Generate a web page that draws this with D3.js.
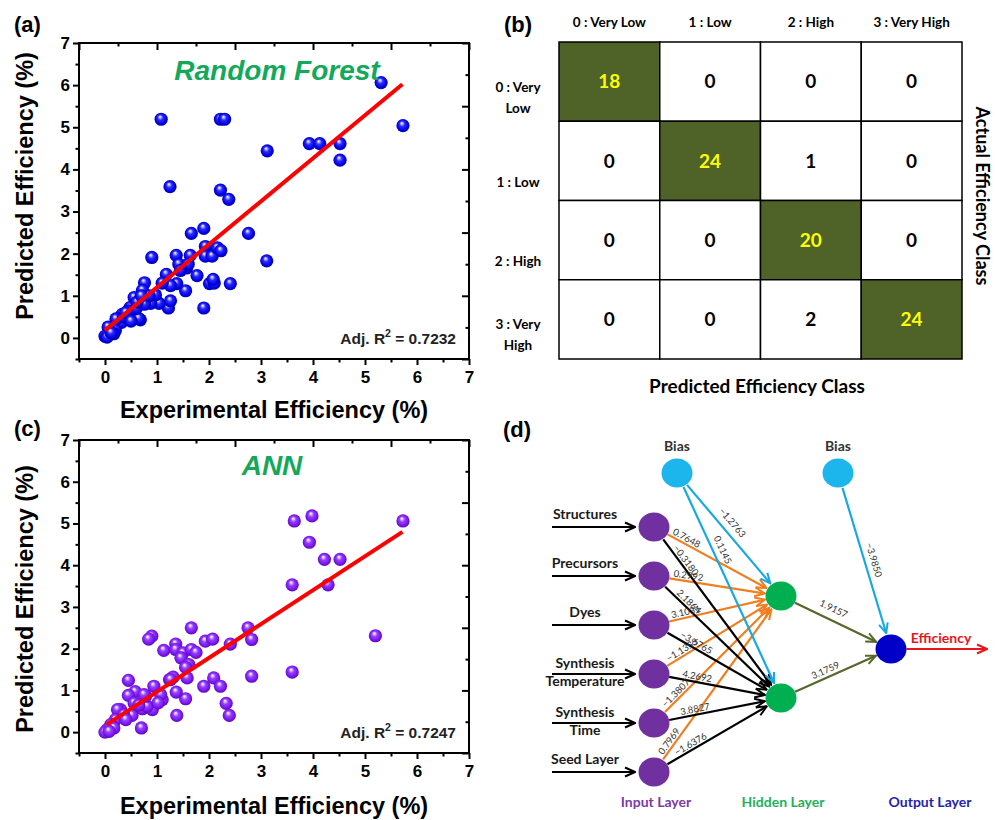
<!DOCTYPE html>
<html>
<head>
<meta charset="utf-8">
<script src="https://cdn.jsdelivr.net/npm/d3@7"></script>
<style>
  body { margin: 0; background: #fff; }
  svg { display: block; }
</style>
</head>
<body>
<script>
// ---- data: (a) random forest, experimental vs predicted
const rfExp = [5.31, 5.73, 1.08, 2.22, 2.30, 3.12, 3.93, 4.13, 4.52, 4.52, 1.25, 2.22, 2.38, 1.90, 1.66, 2.76,
  3.11, 0.90, 1.37, 1.64, 1.93, 1.93, 2.06, 2.16, 2.23, 1.42, 1.57, 1.77, 1.18, 1.55, 1.38, 1.26, 1.10, 2.01,
  2.10, 2.08, 2.41, 1.90, 1.22, 1.26, 1.04, 0.88, 0.97, 0.76, 0.72, 0.76, 0.56, 0.68, 0.56, 0.48, 0.45, 0.33,
  0.32, 0.21, 0.20, 0.06, 0.00, 0.04, 0.17, 0.36, 0.65, 0.60, 0.62, 0.40, 0.85, 0.70, 1.45, 1.60, 0.12, 0.50];
const rfPred = [6.06, 5.04, 5.19, 5.19, 5.19, 4.44, 4.61, 4.61, 4.61, 4.22, 3.59, 3.51, 3.29, 2.60, 2.48, 2.48,
  1.83, 1.91, 1.96, 1.96, 2.17, 1.94, 1.94, 2.14, 2.07, 1.75, 1.66, 1.48, 1.51, 1.12, 1.29, 1.24, 1.30, 1.29,
  1.30, 1.39, 1.29, 0.71, 0.71, 0.88, 0.82, 0.82, 1.02, 1.31, 1.13, 0.80, 0.96, 0.43, 0.50, 0.72, 0.64, 0.56,
  0.37, 0.45, 0.18, 0.26, 0.04, 0.02, 0.10, 0.50, 0.46, 0.70, 0.85, 0.60, 1.00, 1.00, 1.60, 1.75, 0.12, 0.40];
const rfFit = [[0.0, 0.18], [5.72, 6.02]];
const rfR2 = "0.7232";

// ---- data: (c) ANN
const annExp = [5.73, 3.98, 3.64, 3.93, 4.22, 4.52, 3.60, 4.29, 5.20, 3.60, 2.82, 2.75, 2.82, 2.41, 1.66, 1.93,
  2.07, 0.90, 0.84, 1.13, 1.36, 1.36, 1.50, 1.66, 1.75, 1.46, 1.61, 1.58, 2.09, 1.90, 2.22, 2.33, 2.39, 1.38,
  1.55, 1.37, 1.31, 1.24, 1.10, 0.94, 1.07, 0.91, 0.45, 0.58, 0.45, 0.70, 0.52, 0.72, 0.81, 0.78, 0.30, 0.24,
  0.36, 0.20, 0.11, 0.04, 0.00, 0.17, 0.56, 0.75, 1.26, 1.55, 0.65, 0.08, 0.40, 1.02];
const annPred = [5.06, 5.18, 5.06, 4.55, 4.14, 4.14, 3.53, 3.53, 2.31, 1.44, 1.34, 2.50, 2.22, 2.11, 2.50, 2.18,
  2.23, 2.30, 2.23, 1.96, 2.11, 1.98, 1.90, 1.98, 1.91, 1.78, 1.62, 1.30, 1.30, 1.10, 1.10, 0.69, 0.40, 0.40,
  0.80, 0.96, 1.32, 1.26, 0.78, 1.10, 0.90, 0.54, 1.24, 0.97, 0.88, 0.10, 0.40, 0.56, 0.62, 0.86, 0.54, 0.54,
  0.42, 0.30, 0.18, 0.06, 0.00, 0.10, 0.70, 0.90, 1.26, 1.55, 0.65, 0.02, 0.30, 0.70];
const annFit = [[0.03, 0.18], [5.72, 4.80]];
const annR2 = "0.7247";

const axisMajor = [0, 1, 2, 3, 4, 5, 6, 7];
const axisMinor = [-0.5, 0.5, 1.5, 2.5, 3.5, 4.5, 5.5, 6.5];
const mirrorMajor = [-0.5, 1, 2.5, 4, 5.5, 7];
const mirrorMinor = [0.25, 1.75, 3.25, 4.75, 6.25];

// ---- data: (b) confusion matrix
const classNames = ["0 : Very Low", "1 : Low", "2 : High", "3 : Very High"];
const rowNameLines = [["0 : Very", "Low"], ["1 : Low"], ["2 : High"], ["3 : Very", "High"]];
const confusion = [
  [18, 0, 0, 0],
  [0, 24, 1, 0],
  [0, 0, 20, 0],
  [0, 0, 2, 24]
];

// ---- data: (d) network
const inputLines = [["Structures"], ["Precursors"], ["Dyes"], ["Synthesis", "Temperature"], ["Synthesis", "Time"], ["Seed Layer"]];
const wToHidden1 = [0.7648, 0.2992, 3.1031, -1.1353, -1.3807, 0.7969];
const wToHidden2 = [-0.3180, 2.1864, -3.6765, 4.2692, 3.8827, -1.6376];
const wBiasToHidden = [-1.2763, 0.1145];
const wHiddenToOut = [1.9157, 3.1759];
const wBiasToOut = -3.9850;

const FONT = "'Liberation Sans', Arial, sans-serif";
const FONT2 = "Lato, 'Open Sans', sans-serif";

const svg = d3.select("body").append("svg")
  .attr("width", 995).attr("height", 820)
  .style("font-family", FONT);

const defs = svg.append("defs");

// shaded sphere gradients
function sphere(id, stops) {
  const gr = defs.append("radialGradient").attr("id", id)
    .attr("cx", "50%").attr("cy", "50%").attr("r", "55%")
    .attr("fx", "40%").attr("fy", "30%");
  stops.forEach(([o, c]) => gr.append("stop").attr("offset", o).attr("stop-color", c));
}
sphere("ballBlue", [["0%", "#ffffff"], ["14%", "#b8b8ff"], ["38%", "#2a2aff"], ["75%", "#0000e6"], ["100%", "#000090"]]);
sphere("ballPurple", [["0%", "#ffffff"], ["14%", "#dcc4ff"], ["38%", "#9440ff"], ["75%", "#7a12f0"], ["100%", "#4a0898"]]);

// ---------------- scatter panels ----------------
function scatterPanel(o) {
  const x = d3.scaleLinear().domain([-0.5, 7]).range([79, 469]);
  const y = d3.scaleLinear().domain([-0.5, 7]).range([o.bottom, o.top]);
  const g = svg.append("g");

  const style = sel => {
    sel.select(".domain").remove();
    sel.selectAll("line").attr("stroke", "#000").attr("stroke-width", 2);
    sel.selectAll("text").style("font-family", FONT).style("font-size", "17px")
      .style("font-weight", "bold").attr("fill", "#000");
  };

  g.append("g").attr("transform", `translate(0,${o.bottom})`)
    .call(d3.axisBottom(x).tickValues(axisMajor).tickSize(6).tickPadding(6).tickFormat(d3.format("d"))).call(style);
  g.append("g").attr("transform", `translate(0,${o.bottom})`)
    .call(d3.axisBottom(x).tickValues(axisMinor).tickSize(3.5).tickFormat("")).call(style);
  g.append("g").attr("transform", "translate(79,0)")
    .call(d3.axisLeft(y).tickValues(axisMajor).tickSize(6).tickPadding(3).tickFormat(d3.format("d"))).call(style);
  g.append("g").attr("transform", "translate(79,0)")
    .call(d3.axisLeft(y).tickValues(axisMinor).tickSize(3.5).tickFormat("")).call(style);
  // mirrored axes, inward ticks
  g.append("g").attr("transform", `translate(0,${o.top})`)
    .call(d3.axisTop(x).tickValues(mirrorMajor).tickSize(-7).tickFormat("")).call(style);
  g.append("g").attr("transform", `translate(0,${o.top})`)
    .call(d3.axisTop(x).tickValues(mirrorMinor).tickSize(-3.5).tickFormat("")).call(style);
  g.append("g").attr("transform", "translate(469,0)")
    .call(d3.axisRight(y).tickValues(mirrorMajor).tickSize(-7).tickFormat("")).call(style);
  g.append("g").attr("transform", "translate(469,0)")
    .call(d3.axisRight(y).tickValues(mirrorMinor).tickSize(-3.5).tickFormat("")).call(style);

  g.append("rect").attr("x", 79).attr("y", o.top).attr("width", 390).attr("height", o.bottom - o.top)
    .attr("fill", "none").attr("stroke", "#000").attr("stroke-width", 2);

  const pts = o.xs.map((v, i) => [v, o.ys[i]]);
  g.append("g").selectAll("circle").data(pts).join("circle")
    .attr("cx", d => x(d[0])).attr("cy", d => y(d[1])).attr("r", 6.6)
    .attr("fill", `url(#${o.ball})`);

  g.append("line")
    .attr("x1", x(o.fit[0][0])).attr("y1", y(o.fit[0][1]))
    .attr("x2", x(o.fit[1][0])).attr("y2", y(o.fit[1][1]))
    .attr("stroke", "#ff0000").attr("stroke-width", 4).attr("stroke-linecap", "butt");

  g.append("text").attr("x", o.titleX).attr("y", o.titleY).attr("text-anchor", "middle")
    .style("font-size", "28px").style("font-weight", "bold").style("font-style", "italic")
    .attr("fill", "#14a85a").text(o.title);

  const r2 = g.append("text").attr("x", 456).attr("y", o.bottom - 15).attr("text-anchor", "end")
    .style("font-size", "15.5px").style("font-weight", "bold").attr("fill", "#222");
  r2.append("tspan").text("Adj. R");
  r2.append("tspan").attr("dy", -7).style("font-size", "10.5px").text("2");
  r2.append("tspan").attr("dy", 7).text(" = " + o.r2);

  g.append("text").attr("transform", `translate(33,${o.ylabY}) rotate(-90)`).attr("text-anchor", "middle")
    .style("font-size", "23.5px").style("font-weight", "bold").text("Predicted Efficiency (%)");
  g.append("text").attr("x", 274).attr("y", o.xlabY).attr("text-anchor", "middle")
    .style("font-size", "23.5px").style("font-weight", "bold").text("Experimental Efficiency (%)");

  g.append("text").attr("x", 14).attr("y", o.tagY)
    .style("font-size", "22px").style("font-weight", "bold").text(o.tag);
}

scatterPanel({ top: 43, bottom: 359, xs: rfExp, ys: rfPred, fit: rfFit, r2: rfR2, ball: "ballBlue",
  title: "Random Forest", titleX: 277, titleY: 80, ylabY: 186, xlabY: 418, tag: "(a)", tagY: 32 });
scatterPanel({ top: 440, bottom: 753, xs: annExp, ys: annPred, fit: annFit, r2: annR2, ball: "ballPurple",
  title: "ANN", titleX: 272, titleY: 475, ylabY: 599, xlabY: 814, tag: "(c)", tagY: 436 });

// ---------------- confusion matrix ----------------
{
  const cx = d3.scaleBand().domain(d3.range(4)).range([559, 962]);
  const cy = d3.scaleBand().domain(d3.range(4)).range([42, 359]);
  const g = svg.append("g").style("font-family", FONT2);
  const cells = confusion.flatMap((row, r) => row.map((v, c) => ({ r, c, v })));

  g.selectAll("rect").data(cells).join("rect")
    .attr("x", d => cx(d.c)).attr("y", d => cy(d.r))
    .attr("width", cx.bandwidth()).attr("height", cy.bandwidth())
    .attr("fill", d => d.r === d.c ? "#4f6228" : "#fff")
    .attr("stroke", "#000").attr("stroke-width", 1.5);

  g.selectAll("text.val").data(cells).join("text").attr("class", "val")
    .attr("x", d => cx(d.c) + cx.bandwidth() / 2).attr("y", d => cy(d.r) + cy.bandwidth() / 2)
    .attr("dy", "0.36em").attr("text-anchor", "middle")
    .style("font-size", "19px").style("font-weight", "bold")
    .attr("fill", d => d.r === d.c ? "#ffff00" : "#000").text(d => d.v);

  g.selectAll("text.col").data(classNames).join("text").attr("class", "col")
    .attr("x", (d, i) => cx(i) + cx.bandwidth() / 2).attr("y", 27).attr("text-anchor", "middle")
    .style("font-size", "13.5px").style("font-weight", "bold").text(d => d);

  rowNameLines.forEach((lines, i) => {
    const yc = cy(i) + cy.bandwidth() / 2;
    const t = g.append("text").attr("text-anchor", "middle")
      .style("font-size", "13.5px").style("font-weight", "bold");
    lines.forEach((s, k) => {
      t.append("tspan").attr("x", 518)
        .attr("y", lines.length > 1 ? yc + 10 + k * 21 : yc + 26).text(s);
    });
  });

  g.append("text").attr("x", 757).attr("y", 393).attr("text-anchor", "middle")
    .style("font-size", "19px").style("font-weight", "bold").text("Predicted Efficiency Class");
  g.append("text").attr("transform", "translate(976,196) rotate(90)").attr("text-anchor", "middle")
    .style("font-size", "18px").style("font-weight", "bold").text("Actual Efficiency Class");

  svg.append("text").attr("x", 504).attr("y", 32)
    .style("font-size", "22px").style("font-weight", "bold").text("(b)");
}

// ---------------- network diagram ----------------
{
  const g = svg.append("g").style("font-family", FONT2);
  const inY = d3.scalePoint().domain(d3.range(inputLines.length)).range([527, 772]);
  const hidY = d3.scalePoint().domain([0, 1]).range([596, 698]);
  const xIn = 654, xHid = 781, xOut = 891, xB1 = 677, xB2 = 838, yB = 473, yOut = 649, R = 15.5;

  const colors = { orange: "#f07d1e", black: "#000000", blue: "#1aa8e2", olive: "#56682c", red: "#e8141e" };
  Object.entries(colors).forEach(([k, c]) => {
    defs.append("marker").attr("id", "arr-" + k)
      .attr("viewBox", "0 0 12 12").attr("refX", 11).attr("refY", 6)
      .attr("markerWidth", 12).attr("markerHeight", 12)
      .attr("markerUnits", "userSpaceOnUse").attr("orient", "auto")
      .append("path").attr("d", "M1,1.5 L11,6 L1,10.5")
      .attr("fill", "none").attr("stroke", c).attr("stroke-width", 2);
  });

  const edges = g.append("g"), labels = g.append("g");
  function edge(x1, y1, x2, y2, col, w, along, off) {
    const dx = x2 - x1, dy = y2 - y1, L = Math.hypot(dx, dy), ux = dx / L, uy = dy / L;
    edges.append("line")
      .attr("x1", x1 + ux * R).attr("y1", y1 + uy * R)
      .attr("x2", x2 - ux * (R + 1)).attr("y2", y2 - uy * (R + 1))
      .attr("stroke", colors[col]).attr("stroke-width", 2.2)
      .attr("marker-end", `url(#arr-${col})`);
    const ang = Math.atan2(dy, dx) * 180 / Math.PI;
    labels.append("text")
      .attr("transform", `translate(${x1 + ux * along},${y1 + uy * along}) rotate(${ang})`)
      .attr("y", off).style("font-size", "9.5px").attr("fill", "#333")
      .text(d3.format(".4f")(w));
  }

  inputLines.forEach((lines, i) => {
    edge(xIn, inY(i), xHid, hidY(0), "orange", wToHidden1[i], 19, -2.5);
  });
  inputLines.forEach((lines, i) => {
    edge(xIn, inY(i), xHid, hidY(1), "black", wToHidden2[i], 28, -2.5);
  });
  edge(xB1, yB, xHid, hidY(0), "blue", wBiasToHidden[0], 56, -7);
  edge(xB1, yB, xHid, hidY(1), "blue", wBiasToHidden[1], 74, -6);
  edge(xB2, yB, xOut, yOut, "blue", wBiasToOut, 76, -6);
  edge(xHid, hidY(0), xOut, yOut, "olive", wHiddenToOut[0], 38, -8);
  edge(xHid, hidY(1), xOut, yOut, "olive", wHiddenToOut[1], 37, -4);

  // input arrows and labels
  inputLines.forEach((lines, i) => {
    const yy = inY(i);
    g.append("line").attr("x1", 552).attr("y1", yy).attr("x2", 635).attr("y2", yy)
      .attr("stroke", "#000").attr("stroke-width", 2).attr("marker-end", "url(#arr-black)");
    const t = g.append("text").attr("text-anchor", "middle")
      .style("font-size", "14px").style("font-weight", "bold").attr("fill", "#1a1a1a");
    lines.forEach((s, k) => {
      t.append("tspan").attr("x", 585)
        .attr("y", lines.length > 1 ? yy - 6 + k * 18 : yy - 8).text(s);
    });
  });

  // output arrow
  g.append("line").attr("x1", xOut + R).attr("y1", yOut).attr("x2", 987).attr("y2", yOut)
    .attr("stroke", colors.red).attr("stroke-width", 2).attr("marker-end", "url(#arr-red)");
  g.append("text").attr("x", 941).attr("y", 643).attr("text-anchor", "middle")
    .style("font-size", "14px").style("font-weight", "bold").attr("fill", colors.red).text("Efficiency");

  // nodes
  const nodes = [
    ...inputLines.map((d, i) => ({ x: xIn, y: inY(i), c: "#7030a0" })),
    { x: xHid, y: hidY(0), c: "#00b050" }, { x: xHid, y: hidY(1), c: "#00b050" },
    { x: xOut, y: yOut, c: "#0000c8" },
    { x: xB1, y: yB, c: "#1cb6ec" }, { x: xB2, y: yB, c: "#1cb6ec" }
  ];
  g.append("g").selectAll("ellipse").data(nodes).join("ellipse")
    .attr("cx", d => d.x).attr("cy", d => d.y).attr("rx", R).attr("ry", 14.5).attr("fill", d => d.c);

  [xB1, xB2].forEach(bx => {
    g.append("text").attr("x", bx).attr("y", 451).attr("text-anchor", "middle")
      .style("font-size", "14px").style("font-weight", "bold").attr("fill", "#333").text("Bias");
  });

  [["Input Layer", 656, "#7a3aa8"], ["Hidden Layer", 783, "#1fb05a"], ["Output Layer", 930, "#2424a8"]]
    .forEach(([s, lx, c]) => {
      g.append("text").attr("x", lx).attr("y", 807).attr("text-anchor", "middle")
        .style("font-size", "14px").style("font-weight", "bold").attr("fill", c).text(s);
    });

  svg.append("text").attr("x", 503).attr("y", 437)
    .style("font-size", "22px").style("font-weight", "bold").text("(d)");
}
</script>
</body>
</html>
